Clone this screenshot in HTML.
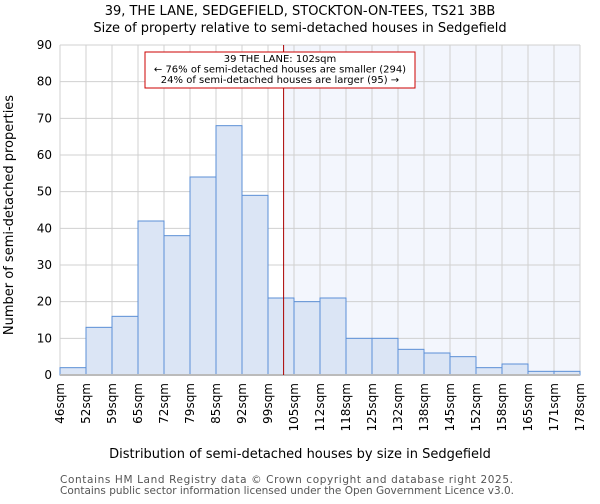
<!DOCTYPE html>
<html><head><meta charset="utf-8"><style>
body{margin:0;background:#fff;font-family:"DejaVu Sans","Liberation Sans",sans-serif}
svg text{font-family:"DejaVu Sans","Liberation Sans",sans-serif}
</style></head><body>
<svg id="c" width="600" height="500">
<text x="300" y="15" text-anchor="middle" font-size="13">39, THE LANE, SEDGEFIELD, STOCKTON-ON-TEES, TS21 3BB</text>
<text x="300" y="32" text-anchor="middle" font-size="13">Size of property relative to semi-detached houses in Sedgefield</text>
<g id="grid"></g><g id="bars"></g><g id="axes"></g>
<text x="300" y="458" text-anchor="middle" font-size="13">Distribution of semi-detached houses by size in Sedgefield</text>
<text transform="translate(13,215) rotate(-90)" text-anchor="middle" font-size="13">Number of semi-detached properties</text>
<text x="60" y="483" font-size="10.5" fill="#555" textLength="453">Contains HM Land Registry data © Crown copyright and database right 2025.</text>
<text x="60" y="494" font-size="10.5" fill="#555" textLength="454">Contains public sector information licensed under the Open Government Licence v3.0.</text>
</svg>
<script>
const categories=["46sqm","52sqm","59sqm","65sqm","72sqm","79sqm","85sqm","92sqm","99sqm","105sqm","112sqm","118sqm","125sqm","132sqm","138sqm","145sqm","152sqm","158sqm","165sqm","171sqm","178sqm"];
const counts=[2,13,16,42,38,54,68,49,21,20,21,10,10,7,6,5,2,3,1,1];
const yTicks=[0,10,20,30,40,50,60,70,80,90];
const markerBin=8.6;
const L=60,R=580,T=45,B=375,NS="http://www.w3.org/2000/svg";
const nb=counts.length,bw=(R-L)/nb;
const x=i=>L+i*bw, y=v=>B-(v/90)*(B-T);
function mk(p,t,a){const e=document.createElementNS(NS,t);for(const k in a)e.setAttribute(k,a[k]);document.getElementById(p).appendChild(e);return e;}
const mx=x(markerBin);
let e=mk("grid","rect",{x:mx,y:T,width:R-mx,height:B-T,fill:"#f3f6fd"});


yTicks.forEach(v=>{let g=mk("grid","line",{x1:L,x2:R,y1:y(v),y2:y(v),stroke:"#d0d0d0"});


let t=mk("axes","text",{x:L-8,y:y(v)+4,"text-anchor":"end","font-size":"12"});t.textContent=v;

});
categories.forEach((c,i)=>{let g=mk("grid","line",{x1:x(i),x2:x(i),y1:T,y2:B,stroke:"#d0d0d0"});


let t=mk("axes","text",{transform:`translate(${x(i)+4},${B+8}) rotate(-90)`,"text-anchor":"end","font-size":"12"});t.textContent=c;

});
counts.forEach((v,i)=>{let r=mk("bars","rect",{x:x(i),y:y(v),width:bw,height:B-y(v),fill:"#dbe5f5",stroke:"#5b8fd6","stroke-width":"1"});

});
let bl=mk("axes","line",{x1:L,x2:R,y1:B,y2:B,stroke:"#bbb","stroke-width":"2"});


let ml=mk("axes","line",{x1:mx,x2:mx,y1:T,y2:B,stroke:"#aa0000","stroke-width":"1"});


let box=mk("axes","rect",{x:145,y:52,width:270,height:36,fill:"#fff",stroke:"#cc0000","stroke-width":"1"});


["39 THE LANE: 102sqm","← 76% of semi-detached houses are smaller (294)","24% of semi-detached houses are larger (95) →"].forEach((s,k)=>{let t=mk("axes","text",{x:280,y:62+k*10.5,"text-anchor":"middle","font-size":"10"});t.textContent=s;

});
</script>
</body></html>
